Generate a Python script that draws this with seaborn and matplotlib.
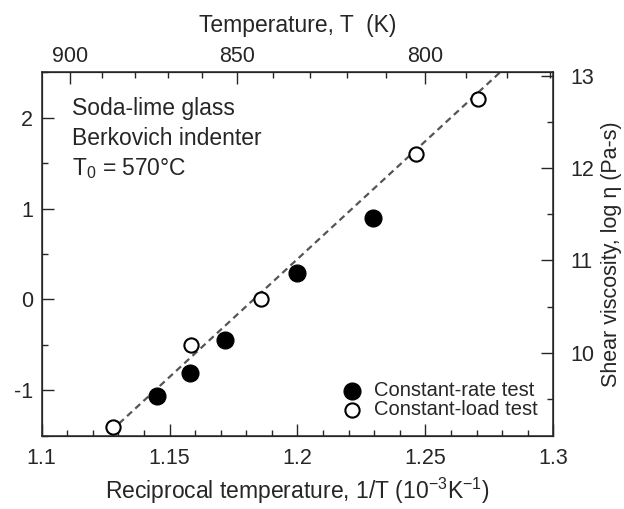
import numpy as np
import pandas as pd
import matplotlib
matplotlib.use("Agg")
import matplotlib.pyplot as plt
import seaborn as sns
from matplotlib.ticker import MultipleLocator, FixedLocator

# data
rate_x = [1.1450, 1.1580, 1.1717, 1.1999, 1.2296]
rate_y = [-1.06, -0.81, -0.45, 0.29, 0.90]
load_x = [1.1280, 1.1582, 1.1857, 1.2465, 1.2707]
load_y = [-1.40, -0.50, 0.00, 1.60, 2.21]
fit_x = [1.1270, 1.2792]
fit_y = [-1.45, 2.50]
top_temps = [900, 850, 800]
top_minor_temps = [890, 880, 870, 860, 840, 830, 820, 810, 790, 780, 770]

sns.set_style("ticks")
plt.rcParams['font.family'] = ['Liberation Sans', 'DejaVu Sans']
plt.rcParams['axes.unicode_minus'] = False
plt.rcParams['mathtext.fontset'] = 'custom'
plt.rcParams['mathtext.rm'] = 'Liberation Sans'

fig = plt.figure(figsize=(6.24, 5.09), dpi=100)
ax = fig.add_axes([0.0668, 0.1440, 0.8199, 0.7140])

df_rate = pd.DataFrame({"x": rate_x, "y": rate_y})
df_load = pd.DataFrame({"x": load_x, "y": load_y})
df_fit = pd.DataFrame({"x": fit_x, "y": fit_y})

sns.lineplot(data=df_fit, x="x", y="y", ax=ax, color="#555555", linewidth=1.6,
             dashes=False, linestyle=(0, (3, 2)), legend=False, zorder=1)
sns.scatterplot(data=df_rate, x="x", y="y", ax=ax, s=150, color="black",
                edgecolor="black", linewidth=0.8, label="Constant-rate test", zorder=3)
sns.scatterplot(data=df_load, x="x", y="y", ax=ax, s=105, facecolor="white",
                edgecolor="black", linewidth=1.5, label="Constant-load test", zorder=3)

ax.set_xlim(1.1, 1.3)
ax.set_ylim(-1.5, 2.5)
ax.set_xticks([1.1, 1.15, 1.2, 1.25, 1.3])
ax.set_xticklabels(["1.1", "1.15", "1.2", "1.25", "1.3"])
ax.xaxis.set_minor_locator(MultipleLocator(0.01))
ax.set_yticks([-1, 0, 1, 2])
ax.yaxis.set_minor_locator(MultipleLocator(0.5))
ax.set_ylabel("")
ax.set_xlabel("Reciprocal temperature, 1/T (10$^{-3}$K$^{-1}$)", fontsize=16.5, labelpad=5)
ax.tick_params(which="both", direction="in", labelsize=15.5, width=1.0)
ax.tick_params(axis="x", pad=9)
ax.tick_params(axis="y", pad=6)
ax.tick_params(which="major", length=8.5)
ax.tick_params(which="minor", length=4.5)
ax.tick_params(axis="y", which="both", left=True, right=False)

for sp in ax.spines.values():
    sp.set_linewidth(1.1)

# right axis: shear viscosity
ax_r = ax.twinx()
ax_r.set_ylim(9.10, 13.04)
ax_r.set_yticks([10, 11, 12, 13])
ax_r.yaxis.set_minor_locator(MultipleLocator(0.5))
ax_r.tick_params(which="both", direction="in", labelsize=15.5, width=1.0, pad=12)
ax_r.tick_params(which="major", length=8.5)
ax_r.tick_params(which="minor", length=4.5)
ax_r.set_ylabel("Shear viscosity, log η (Pa-s)", fontsize=15.5, labelpad=5)

# top axis: temperature
ax_t = ax.twiny()
ax_t.set_xlim(ax.get_xlim())
ax_t.set_xticks([1000 / t for t in top_temps])
ax_t.set_xticklabels([str(t) for t in top_temps])
ax_t.xaxis.set_minor_locator(FixedLocator([1000 / t for t in top_minor_temps]))
ax_t.tick_params(which="both", direction="in", labelsize=15.5, width=1.0, pad=4)
ax_t.tick_params(which="major", length=8.5)
ax_t.tick_params(which="minor", length=4.5)
ax_t.set_xlabel("Temperature, T  (K)", fontsize=16.5, labelpad=10)

ax.text(0.0586, 0.8825, "Soda-lime glass", transform=ax.transAxes, fontsize=16.5, va="baseline")
ax.text(0.0586, 0.800, "Berkovich indenter", transform=ax.transAxes, fontsize=16.5, va="baseline")
ax.text(0.0586, 0.717, "T$_0$ = 570°C", transform=ax.transAxes, fontsize=16.5, va="baseline")

ax.legend(frameon=False, loc="lower right", bbox_to_anchor=(0.97, 0.045),
          fontsize=14.5, borderaxespad=0, borderpad=0, handletextpad=0.6,
          labelspacing=0.0, handlelength=1.0)

fig.savefig("out.png", dpi=100)
